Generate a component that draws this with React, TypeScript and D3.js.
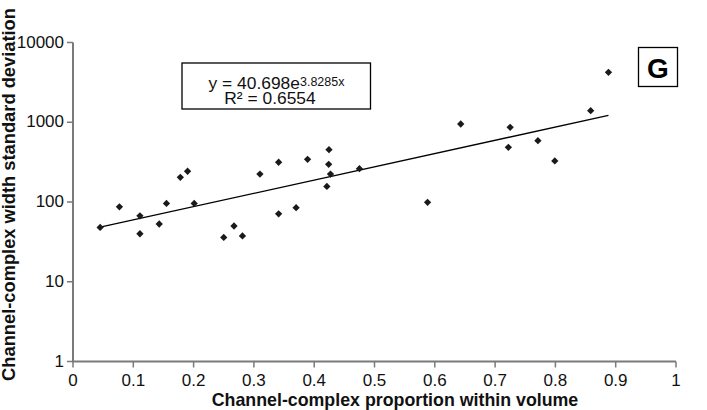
import React from "react";
import * as d3 from "d3";

// Channel-complex proportion within volume (x) and width standard deviation (y)
const proportion = [
  0.045, 0.077, 0.111, 0.111, 0.143, 0.155, 0.178, 0.19, 0.201, 0.25,
  0.267, 0.281, 0.31, 0.341, 0.341, 0.37, 0.389, 0.4245, 0.424, 0.427,
  0.421, 0.475, 0.588, 0.643, 0.725, 0.722, 0.771, 0.799, 0.8585, 0.888,
];
const widthSD = [
  48, 87, 67, 40, 53, 96, 204, 243, 96, 36,
  50, 37.5, 224, 315, 71, 85, 343, 453, 297, 224,
  157, 262, 99, 951, 864, 485, 587, 327, 1396, 4230,
];

// Exponential fit reported on the chart
const fitA = 40.698;
const fitB = 3.8285;
const fitR2 = 0.6554;

const xTicks = [0, 0.1, 0.2, 0.3, 0.4, 0.5, 0.6, 0.7, 0.8, 0.9, 1];
const yTicks = [1, 10, 100, 1000, 10000];

const xTitle = "Channel-complex proportion within volume";
const yTitle = "Channel-complex width standard deviation";
const panelLetter = "G";

const W = 707;
const H = 410;
const FONT = "'Liberation Sans', Arial, Helvetica, sans-serif";
const AXIS = "#7a7a7a";

export default function App() {
  const x = d3.scaleLinear().domain([0, 1]).range([73, 676]);
  const y = d3.scaleLog().domain([1, 10000]).range([361.5, 42.5]);

  const diamond = d3.symbol().type(d3.symbolDiamond2).size(34)();

  const x0 = d3.min(proportion) as number;
  const x1 = d3.max(proportion) as number;
  const fitPts: [number, number][] = [x0, x1].map((v) => [x(v), y(fitA * Math.exp(fitB * v))]);
  const fitPath = d3.line()(fitPts) as string;

  return (
    <svg
      width={W}
      height={H}
      style={{ position: "absolute", left: 0, top: 0, background: "#fff" }}
      fontFamily={FONT}
    >
      <rect x={0} y={0} width={W} height={H} fill="#fff" />

      {/* axes */}
      <line x1={x(0)} x2={x(0)} y1={y(10000)} y2={y(1)} stroke={AXIS} strokeWidth={2} />
      <line x1={x(0) - 1} x2={x(1)} y1={y(1)} y2={y(1)} stroke={AXIS} strokeWidth={2} />

      {yTicks.map((t) => (
        <g key={"y" + t}>
          <line x1={x(0) - 6} x2={x(0)} y1={y(t)} y2={y(t)} stroke={AXIS} strokeWidth={1.5} />
          <text x={x(0) - 9} y={y(t) + 5} textAnchor="end" fontSize={17} fill="#111">
            {t}
          </text>
        </g>
      ))}

      {xTicks.map((t) => (
        <g key={"x" + t}>
          <line x1={x(t)} x2={x(t)} y1={y(1)} y2={y(1) + 6} stroke={AXIS} strokeWidth={1.5} />
          <text x={x(t)} y={385.5} textAnchor="middle" fontSize={17} fill="#111">
            {t}
          </text>
        </g>
      ))}

      {/* axis titles */}
      <text x={395} y={406} textAnchor="middle" fontSize={17.8} fontWeight="bold" fill="#111">
        {xTitle}
      </text>
      <text
        transform={`translate(15,194.5) rotate(-90)`}
        textAnchor="middle"
        fontSize={18.3}
        fontWeight="bold"
        fill="#111"
      >
        {yTitle}
      </text>

      {/* trendline */}
      <path d={fitPath} fill="none" stroke="#000" strokeWidth={1.3} />

      {/* points */}
      {proportion.map((p, i) => (
        <path key={i} d={diamond} transform={`translate(${x(p)},${y(widthSD[i])})`} fill="#1a1a1a" />
      ))}

      {/* equation box */}
      <rect x={182} y={63} width={188.5} height={46} fill="#fff" stroke="#000" strokeWidth={1.3} />
      <text x={276.5} y={89.3} textAnchor="middle" fontSize={17.4} fill="#111">
        {`y = ${fitA}e`}
        <tspan fontSize={12.5} dy={-3}>{`${fitB}x`}</tspan>
      </text>
      <text x={270} y={104.3} textAnchor="middle" fontSize={17.4} fill="#111">
        {`R² = ${fitR2}`}
      </text>

      {/* panel letter */}
      <rect x={638.5} y={47.5} width={39} height={39} fill="#fff" stroke="#000" strokeWidth={1.3} />
      <text x={658} y={77.7} textAnchor="middle" fontSize={28} fontWeight="bold" fill="#000">
        {panelLetter}
      </text>
    </svg>
  );
}
